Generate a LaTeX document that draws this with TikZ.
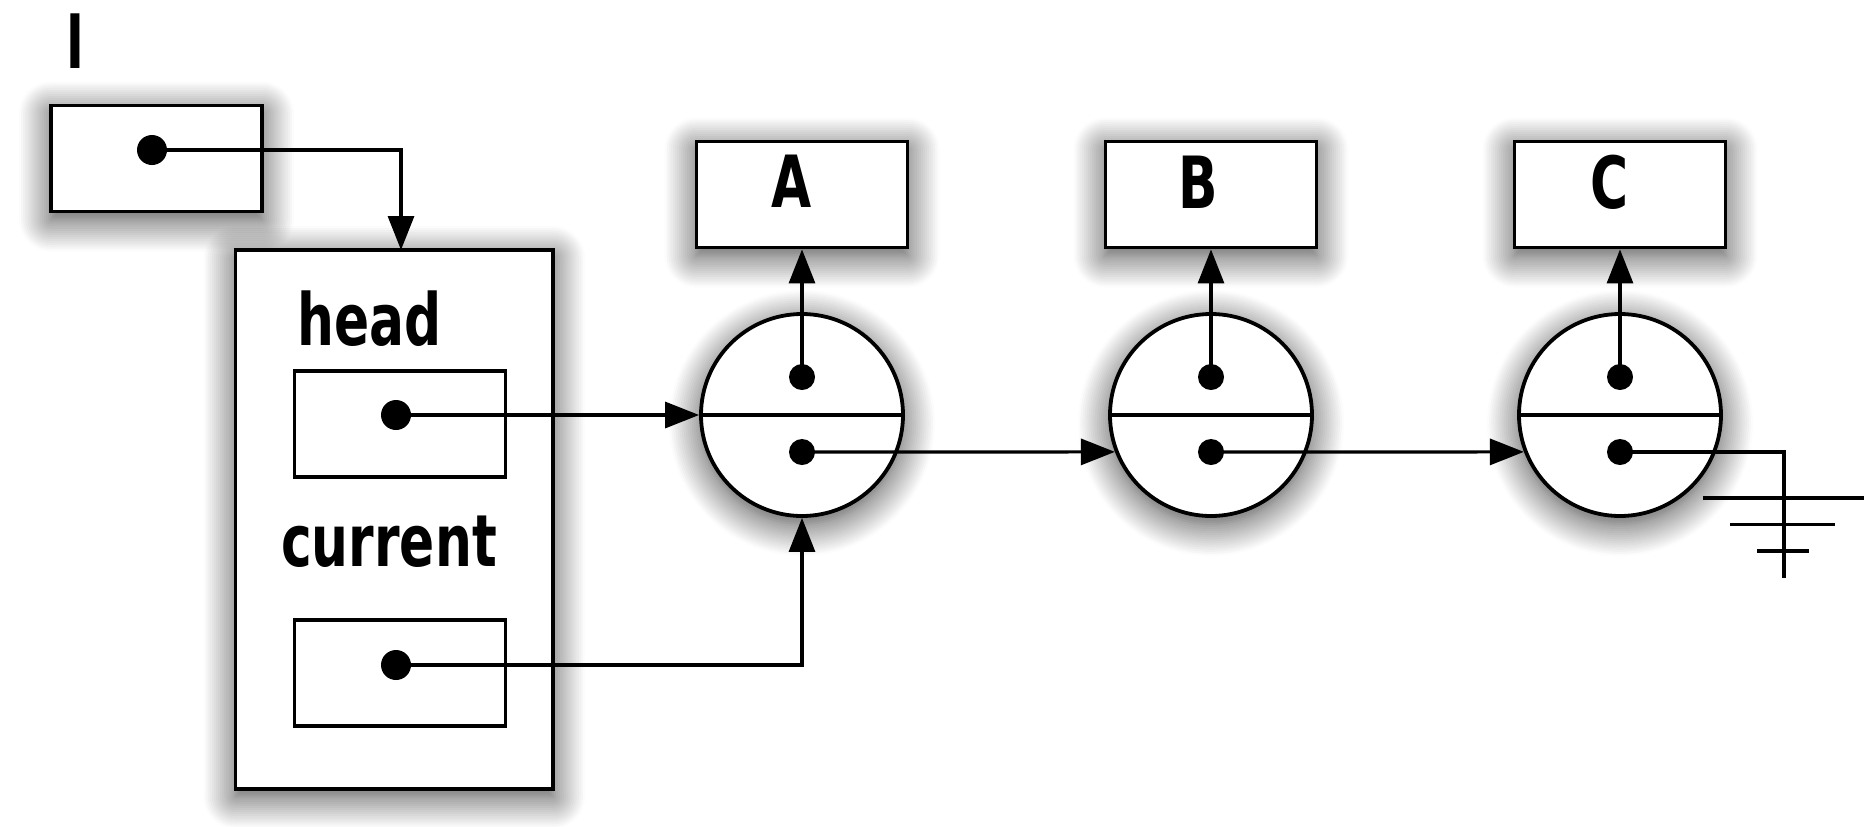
\documentclass[tikz,border=0pt]{standalone}
\usepackage{fontspec}
\newfontfamily\hand{DejaVu Sans}[FakeStretch=0.72]
\usetikzlibrary{arrows.meta,shadows.blur,calc}
\begin{document}
\begin{tikzpicture}[x=0.5pt,y=-0.5pt,
  shd/.style={blur shadow={shadow xshift=0pt,shadow yshift=-4pt,shadow blur radius=16pt,shadow opacity=75,shadow blur steps=16}},
  box/.style={draw,line width=1.9pt,fill=white,rectangle,inner sep=0pt,minimum width=105.5pt,minimum height=53pt},
  cell/.style={circle,draw,line width=1.9pt,fill=white,inner sep=0pt,minimum size=101pt,shd},
  dot/.style={circle,fill=black,inner sep=0pt,minimum size=13pt},
  bigdot/.style={dot,minimum size=15pt},
  lbl/.style={font=\hand\bfseries\fontsize{36}{40}\selectfont,inner sep=0pt,anchor=base},
  link/.style={line width=1.6pt,-{Triangle[length=17pt,width=13pt]}},
  wire/.style={line width=1.6pt}]
\useasboundingbox (0,0) rectangle (1865,826);

% variable l
\node[lbl] (lname) at (75,68) {l};
\node[box,shd] (lbox) at (156.5,158.5) {};
\node[bigdot] (ldot) at (152,150) {};

% list object
\node[box,shd,minimum width=158.75pt,minimum height=269.3pt] (big) at (394.25,519.3) {};
\coordinate (bigin) at (401,250);
\node[lbl] (headlbl) at (370,345) {head};
\node[box] (hbox) at (400,424) {};
\node[bigdot] (hdot) at (396,415) {};
\node[lbl] (curlbl) at (389,566) {current};
\node[box] (cbox) at (400,673) {};
\node[bigdot] (cdot) at (396,665) {};

% value boxes
\node[box,shd] (Abox) at (802,194.5) {};
\node[lbl] (Alb) at (792,207) {A};
\node[box,shd] (Bbox) at (1211,194.5) {};
\node[lbl] (Blb) at (1198,208) {B};
\node[box,shd] (Cbox) at (1620,194.5) {};
\node[lbl] (Clb) at (1610,208) {C};

% cells
\foreach \n/\x in {A/802,B/1211,C/1620}{
  \node[cell] (\n) at (\x,415) {};
  \draw[wire] (\n.west) -- (\n.east);
  \node[dot] (dt\n) at (\x,377) {};
  \node[dot] (db\n) at (\x,452) {};
}

% connectors
\draw[link] (ldot.center) -| (bigin);
\draw[link] (hdot.center) -- (A.west);
\draw[link] (cdot.center) -| (A.south);
\draw[link] (dtA.center) -- (Abox.south);
\draw[link] (dtB.center) -- (Bbox.south);
\draw[link] (dtC.center) -- (Cbox.south);
\draw[link] (dbA.center) -- (B.201.5);
\draw[link] (dbB.center) -- (C.201.5);

% ground (null)
\coordinate (gnd) at (1784,452);
\draw[wire] (dbC.center) -- (gnd) -- ++(0,126);
\draw[wire] ($(gnd)+(-81,46)$) -- ++(161,0);
\draw[wire] ($(gnd)+(-54,72.5)$) -- ++(105,0);
\draw[wire] ($(gnd)+(-27,99)$) -- ++(52,0);
\end{tikzpicture}
\end{document}
